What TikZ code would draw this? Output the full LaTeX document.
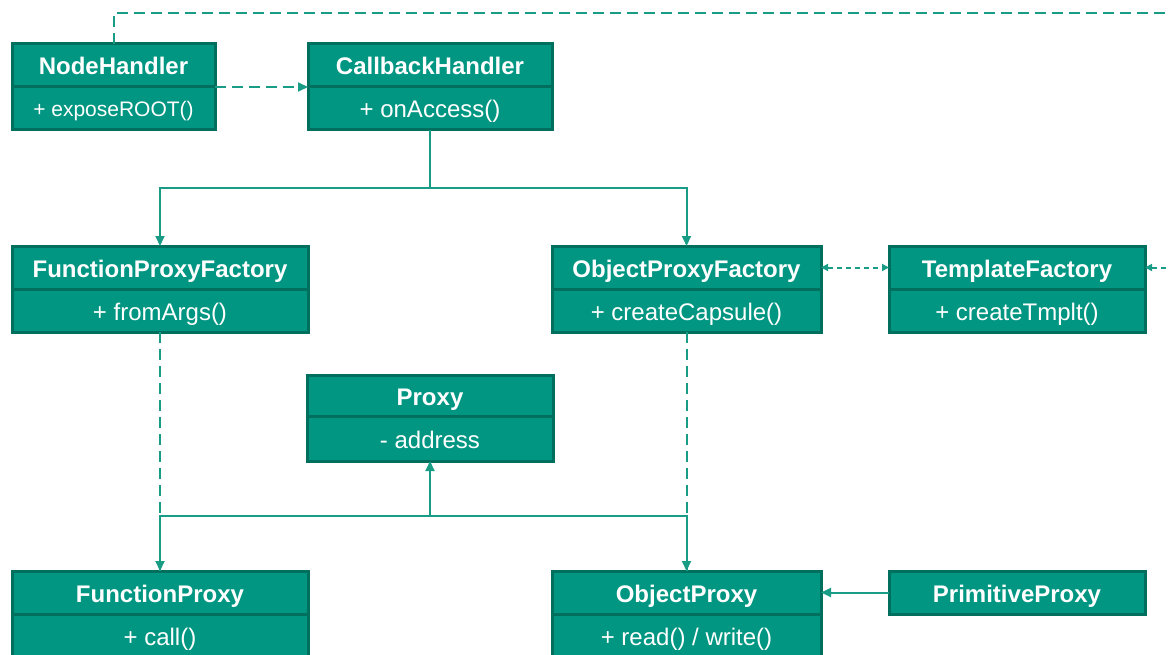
\documentclass[tikz,border=0pt]{standalone}
\usepackage{fontspec}
\setmainfont{Liberation Sans}
\usepackage{xcolor}
\usepackage{tikz}
\usetikzlibrary{
  arrows.meta,
  positioning
}
\definecolor{clsfill}{HTML}{009682}
\definecolor{clsedge}{HTML}{006F5E}
\definecolor{linkcolor}{HTML}{189C86}

\begin{document}
\begin{tikzpicture}[
  x=1pt, y=-1pt,
  hdr/.style={draw=clsedge, fill=clsfill, line width=3pt, outer sep=0pt,
    minimum height=43pt, text=white, inner sep=2pt,
    text height=21pt, text depth=2pt,
    font=\fontsize{24}{28}\selectfont\bfseries},
  body/.style={draw=clsedge, fill=clsfill, line width=3pt, outer sep=0pt,
    minimum height=43pt, text=white, inner sep=2pt,
    text height=21pt, text depth=2pt,
    font=\fontsize{24}{28}\selectfont},
  lnk/.style={draw=linkcolor, line width=2pt},
  assoc/.style={lnk, -{Triangle[length=10pt, width=9pt]}},
  dep/.style={assoc, dash pattern=on 11pt off 6pt},
  dsh/.style={lnk, dash pattern=on 5pt off 4pt},
]
  \clip (0,0) rectangle (1169,655);

  % Top row: handlers
  \node[hdr, minimum width=203pt, anchor=north west] (nh) at (12,44) {NodeHandler};
  \node[body, minimum width=203pt, below=0pt of nh, text height=18pt,
    font=\fontsize{21}{25}\selectfont] (nhb) {+ exposeROOT()};
  \node[hdr, minimum width=244pt, anchor=north west] (cb) at (308,44) {CallbackHandler};
  \node[body, minimum width=244pt, below=0pt of cb] (cbb) {+ onAccess()};

  % Factories
  \node[hdr, minimum width=296pt, anchor=north west] (fpf) at (12,246) {FunctionProxyFactory};
  \node[body, minimum width=296pt, below=0pt of fpf] (fpfb) {+ fromArgs()};
  \node[hdr, minimum width=269pt, anchor=north west] (opf) at (552,246) {ObjectProxyFactory};
  \node[body, minimum width=269pt, below=0pt of opf] (opfb) {+ createCapsule()};
  \node[hdr, minimum width=256pt, anchor=north west] (tf) at (889,246) {TemplateFactory};
  \node[body, minimum width=256pt, below=0pt of tf] (tfb) {+ createTmplt()};

  % Proxy base class
  \node[hdr, minimum width=246pt, minimum height=41pt, anchor=north west] (prx) at (307,375) {Proxy};
  \node[body, minimum width=246pt, minimum height=45pt, below=0pt of prx] (prxb) {- address};

  % Concrete proxies
  \node[hdr, minimum width=296pt, anchor=north west] (fp) at (12,571) {FunctionProxy};
  \node[body, minimum width=296pt, below=0pt of fp] (fpb) {+ call()};
  \node[hdr, minimum width=269pt, anchor=north west] (op) at (552,571) {ObjectProxy};
  \node[body, minimum width=269pt, below=0pt of op] (opb) {+ read() / write()};
  \node[hdr, minimum width=256pt, anchor=north west] (pp) at (889,571) {PrimitiveProxy};

  % Free ends and junctions
  \coordinate (offtop) at (1175,13);
  \coordinate (offtf) at (1175,267.5);
  \coordinate (split) at (430,188);
  \coordinate (jn) at (430,516);

  % Connectors
  \draw[lnk, dash pattern=on 11pt off 6pt] (nh.north) |- (offtop);
  \draw[dep] (nh.south east) -- (cb.south west);
  \draw[lnk] (cbb.south) -- (split);
  \draw[assoc] (split) -| (fpf.north);
  \draw[assoc] (split) -| (opf.north);
  \draw[dsh, {Triangle[length=7pt, width=7pt]}-{Triangle[length=7pt, width=7pt]}]
    (opf.east) -- (tf.west);
  \draw[dsh, -{Triangle[length=7pt, width=7pt]}] (offtf) -- (tf.east);
  \draw[dep] (fpfb.south) -- (fp.north);
  \draw[dep] (opfb.south) -- (op.north);
  \draw[lnk] (fp.north) |- (jn);
  \draw[lnk] (op.north) |- (jn);
  \draw[assoc] (jn) -- (prxb.south);
  \draw[assoc] (pp.west) -- (op.east);
\end{tikzpicture}
\end{document}
